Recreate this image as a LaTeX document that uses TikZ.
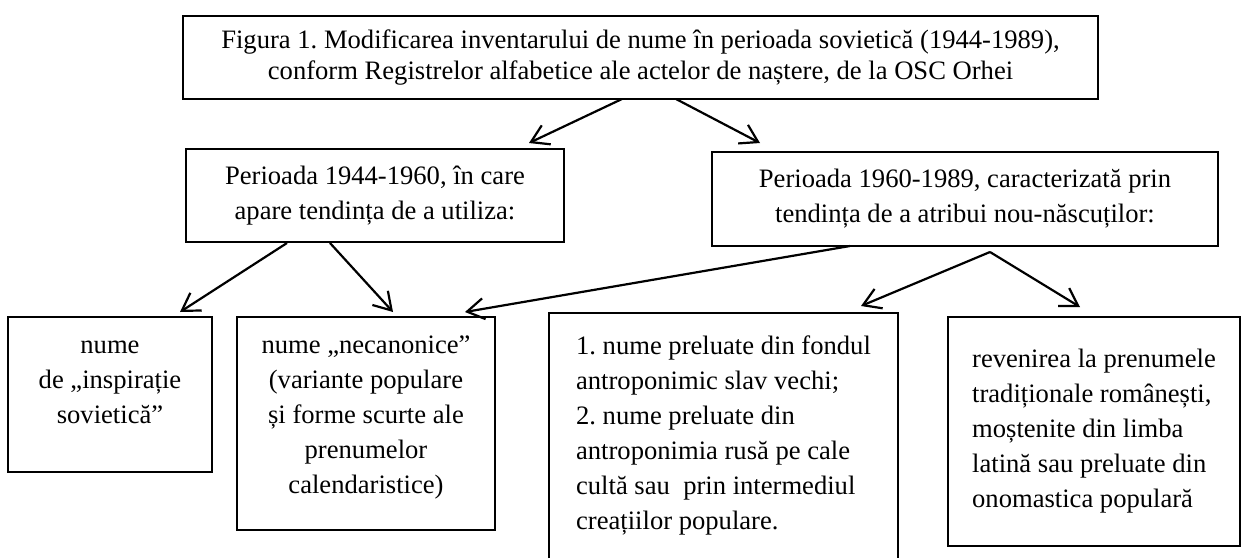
\documentclass[tikz,border=0pt]{standalone}
\usepackage{fontspec}
\setmainfont{Liberation Serif}
\usetikzlibrary{arrows.meta, positioning}
\frenchspacing

\begin{document}
\begin{tikzpicture}[
    x=1pt, y=1pt,
    line width=1.1pt,
    box/.style={draw, rectangle, line width=1.3pt, inner sep=0pt, outer sep=0pt, align=center, font=\fontsize{13.3}{17.5}\selectfont},
    lbox/.style={box, align=left},
    >={Straight Barb[length=8.5pt, width=10.5pt]}
  ]
  \useasboundingbox (0,0) rectangle (622,-279);

  % Nodes
  \node[box, anchor=north west, minimum width=457.5pt, minimum height=41.5pt, font=\fontsize{13.3}{15.5}\selectfont] (fig) at (91.5,-8)
    {Figura 1. Modificarea inventarului de nume în perioada sovietică (1944-1989),\\conform Registrelor alfabetice ale actelor de naștere, de la OSC Orhei};
  \node[box, below right=25pt and 1.5pt of fig.south west, minimum width=189pt, minimum height=46.5pt] (p1)
    {Perioada 1944-1960, în care\\apare tendința de a utiliza:};
  \node[box, anchor=north west, minimum width=253pt, minimum height=47pt] (p2) at (356,-76)
    {Perioada 1960-1989, caracterizată prin\\tendința de a atribui nou-născuților:};
  \node[box, anchor=north west, minimum width=102pt, minimum height=77.5pt, text depth=12pt] (sov) at (4,-158.5)
    {nume\\de „inspirație\\sovietică”};
  \node[box, right=12.5pt of sov.north east, anchor=north west, minimum width=129pt, minimum height=106.5pt, text depth=9pt] (necan)
    {nume „necanonice”\\(variante populare\\și forme scurte ale\\prenumelor\\calendaristice)};
  \node[lbox, draw=none, right=27pt of necan.north east, anchor=north west, yshift=2pt, minimum width=174.5pt, minimum height=122.5pt] (slav)
    {1. nume preluate din fondul\\antroponimic slav vechi;\\2. nume preluate din\\antroponimia rusă pe cale\\cultă sau~ prin intermediul\\creațiilor populare.};
  \draw[line width=1.3pt] (slav.south west) -- (slav.north west) -- (slav.north east) -- (slav.south east);
  \node[lbox, right=25pt of slav.north east, anchor=north west, yshift=-2pt, minimum width=146pt, minimum height=114.5pt] (trad)
    {revenirea la prenumele\\tradiționale românești,\\moștenite din limba\\latină sau preluate din\\onomastica populară};

  % Connections
  \draw[->] ([xshift=-9.25pt]fig.south) -- ([xshift=-17.5pt, yshift=3pt]p1.north east);
  \draw[->] ([xshift=17.75pt]fig.south) -- ([xshift=24pt, yshift=4.5pt]p2.north west);
  \draw[->] ([xshift=-44pt, yshift=-0.5pt]p1.south) -- ([xshift=-16pt, yshift=2.5pt]sov.north east);
  \draw[->] ([xshift=-22.5pt, yshift=-0.5pt]p1.south) -- ([xshift=13.5pt, yshift=2.5pt]necan.north);
  \draw[->] ([xshift=-57.5pt]p2.south) -- ([xshift=-15pt, yshift=2.5pt]necan.north east);
  \coordinate (split) at ([xshift=12.5pt, yshift=-3pt]p2.south);
  \draw[->] (split) -- ([xshift=-18.5pt, yshift=3.5pt]slav.north east);
  \draw[->] (split) -- ([xshift=-7pt, yshift=5pt]trad.north);

\end{tikzpicture}
\end{document}
